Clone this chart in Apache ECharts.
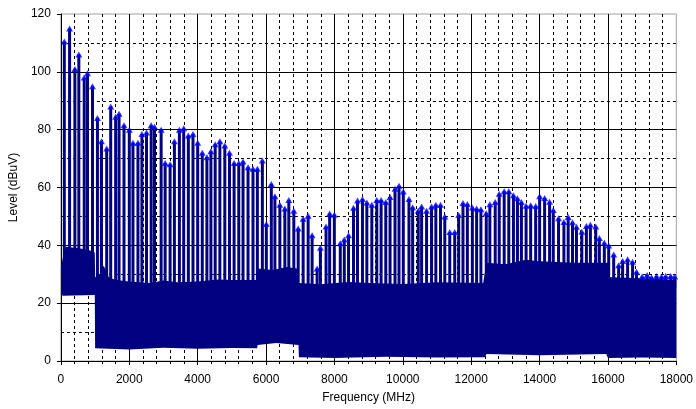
<!DOCTYPE html>
<html>
<head>
<meta charset="utf-8">
<title>Level vs Frequency</title>
<script src="https://cdn.jsdelivr.net/npm/echarts@6/dist/echarts.min.js"></script>
<style>
  html, body { margin: 0; padding: 0; background: #fff; }
  #chart { width: 696px; height: 409px; }
</style>
</head>
<body>
<div id="chart"></div>
<script>
// axis ticks
const xTicks = [0, 2000, 4000, 6000, 8000, 10000, 12000, 14000, 16000, 18000];
const yTicks = [0, 20, 40, 60, 80, 100, 120];

// peak hold (spikes with triangle markers), MHz / dBuV
const peakFreq = [
  99, 253, 408, 524, 681, 777, 923, 1068, 1185, 1339, 1456, 1601, 1700, 1845, 2000, 2107,
  2253, 2369, 2504, 2640, 2737, 2931, 3048, 3193, 3319, 3465, 3591, 3727, 3863, 4000, 4134,
  4270, 4387, 4512, 4649, 4794, 4931, 5065, 5202, 5327, 5473, 5618, 5746, 5892, 6008, 6154,
  6259, 6404, 6550, 6666, 6812, 6940, 7085, 7231, 7347, 7493, 7589, 7755, 7860, 7997, 8171,
  8288, 8413, 8558, 8675, 8820, 8948, 9094, 9240, 9365, 9502, 9627, 9772, 9889, 10014, 10180,
  10288, 10451, 10550, 10695, 10841, 10966, 11103, 11228, 11373, 11519, 11635, 11760, 11888,
  12034, 12159, 12284, 12441, 12546, 12703, 12820, 12965, 13100, 13236, 13353, 13469, 13606,
  13740, 13886, 14002, 14148, 14293, 14401, 14555, 14712, 14837, 14963, 15079, 15236, 15370,
  15487, 15644, 15749, 15894, 16022, 16168, 16313, 16430, 16575, 16721, 16837, 17000, 17146,
  17274, 17419, 17565, 17690, 17836, 17953
];
const peakLevel = [
  110.5, 115, 101, 106, 98, 99.5, 95, 84, 76, 73.5, 88, 84.5, 85.5, 81.5, 80, 75.5,
  75.5, 78.5, 79, 81.5, 81, 80, 68.5, 68, 76, 80, 80.5, 78, 78.5, 75.5, 72,
  70.5, 72.5, 75, 76, 74.5, 72, 68.5, 68.5, 69, 67, 66.5, 66.5, 69.3, 47.4, 61.2,
  57, 54, 52.7, 55.7, 52, 45.8, 49.2, 50.2, 43.5, 32, 39.2, 46.5, 51, 50.6, 40.7,
  42, 43.5, 53, 55.5, 56, 54.8, 54, 55.7, 55.7, 55, 56.7, 59.6, 60.6, 58.6, 56,
  53.2, 52, 53.4, 52, 53.4, 54, 54, 50, 44.6, 44.6, 50.5, 54.6, 54.3,
  53.1, 52.7, 52.5, 51.1, 54.2, 55, 57.8, 58.7, 58.7, 57.3, 56.3, 55, 53.7,
  53.9, 53.6, 57, 56.4, 55.1, 52.2, 49.4, 48.1, 49.8, 48, 46.4, 44.7, 46.7,
  47.1, 46.5, 42.5, 40.9, 39.9, 36.8, 33.1, 34.6, 35.2, 34.3, 30.9, 29.2, 29.7,
  29, 29.4, 29.2, 29.4, 29.4, 29.2
];

// noise floor band: upper and lower edge
const bandTopFreq  = [0, 60, 150, 500, 800, 990, 1000, 1150, 1250, 1400, 1600, 2000, 2600, 3000, 3400, 4000, 4600, 5000, 5740, 5750, 6200, 6600, 6900, 6950, 7600, 8400, 9000, 10000, 11000, 12350, 12450, 13000, 13600, 14000, 15000, 16000, 16050, 17000, 18000];
const bandTopLevel = [32, 36, 39.5, 39, 38.5, 37.5, 29, 30, 33, 29, 28, 27.5, 27, 27.8, 27.2, 27.5, 28.2, 28, 28, 32, 31.5, 32.5, 32, 27, 26.5, 27.3, 27, 26.6, 27.2, 27, 34, 33.5, 35, 34.5, 34, 34, 29, 28.6, 28];
const bandBotFreq  = [0, 60, 990, 1000, 2000, 3000, 4000, 5000, 5740, 5750, 6300, 6950, 6960, 8000, 9500, 11000, 12400, 12450, 14000, 15950, 16000, 17000, 18000];
const bandBotLevel = [23, 22.6, 22.8, 4.4, 4.0, 4.6, 4.2, 4.5, 4.4, 5.5, 6.2, 5.5, 1.3, 1.0, 1.5, 1.2, 1.3, 2.4, 2.0, 2.4, 1.0, 1.2, 1.0];

const NAVY = '#000080';
const SPIKE_BASE = 25;
const FONT = 'Liberation Sans';

const chart = echarts.init(document.getElementById('chart'), null, { renderer: 'canvas' });

const option = {
  animation: false,
  backgroundColor: '#ffffff',
  grid: {
    left: 59, right: 18, top: 14, bottom: 48,
    show: true, borderColor: '#a0a0a0', borderWidth: 1, backgroundColor: 'transparent'
  },
  xAxis: {
    type: 'value',
    min: xTicks[0], max: xTicks[xTicks.length - 1], interval: xTicks[1] - xTicks[0],
    name: 'Frequency (MHz)', nameLocation: 'middle', nameGap: 31,
    nameTextStyle: { fontFamily: FONT, fontSize: 12, color: '#000' },
    axisLine: { show: true, onZero: false, lineStyle: { color: '#000', width: 1 } },
    axisTick: { show: true, length: 4, lineStyle: { color: '#000' } },
    minorTick: { show: true, splitNumber: 5, length: 3, lineStyle: { color: '#000' } },
    axisLabel: { fontFamily: FONT, fontSize: 12, color: '#000', margin: 13, formatter: v => String(v) },
    splitLine: { show: true, showMaxLine: false, lineStyle: { color: '#000', width: 1 } },
    minorSplitLine: { show: true, lineStyle: { color: '#000', width: 1, type: [3, 3] } }
  },
  yAxis: {
    type: 'value',
    min: yTicks[0], max: yTicks[yTicks.length - 1], interval: yTicks[1] - yTicks[0],
    name: 'Level (dBuV)', nameLocation: 'middle', nameGap: 32, nameRotate: 90,
    nameTextStyle: { fontFamily: FONT, fontSize: 12, color: '#000' },
    axisLine: { show: true, lineStyle: { color: '#000', width: 1 } },
    axisTick: { show: true, length: 4, lineStyle: { color: '#000' } },
    minorTick: { show: false, splitNumber: 2 },
    axisLabel: { fontFamily: FONT, fontSize: 12, color: '#000', margin: 10, formatter: v => String(v) },
    splitLine: { show: true, showMaxLine: false, lineStyle: { color: '#000', width: 1 } },
    minorSplitLine: { show: true, lineStyle: { color: '#000', width: 1, type: [3, 3] } }
  },
  series: [
    {
      // noise floor band as one polygon
      type: 'custom',
      name: 'floor',
      data: [[0, 0]],
      clip: true,
      z: 2,
      renderItem: function (params, api) {
        const pts = [];
        for (let i = 0; i < bandTopFreq.length; i++) {
          pts.push(api.coord([bandTopFreq[i], bandTopLevel[i]]));
        }
        for (let i = bandBotFreq.length - 1; i >= 0; i--) {
          pts.push(api.coord([bandBotFreq[i], bandBotLevel[i]]));
        }
        return { type: 'polygon', shape: { points: pts }, style: { fill: NAVY } };
      }
    },
    {
      // spikes
      type: 'custom',
      name: 'peaks',
      data: peakFreq.map((f, i) => [f, peakLevel[i]]),
      clip: true,
      z: 3,
      renderItem: function (params, api) {
        const top = api.coord([api.value(0), api.value(1)]);
        const bot = api.coord([api.value(0), SPIKE_BASE]);
        return {
          type: 'rect',
          shape: { x: top[0] - 1.5, y: top[1], width: 3, height: bot[1] - top[1] },
          style: { fill: NAVY }
        };
      }
    },
    {
      type: 'scatter',
      name: 'markers',
      data: peakFreq.map((f, i) => [f, peakLevel[i]]),
      symbol: 'triangle',
      symbolSize: [7, 6],
      itemStyle: { color: '#0000ff' },
      z: 4
    }
  ]
};

chart.setOption(option);
</script>
</body>
</html>
